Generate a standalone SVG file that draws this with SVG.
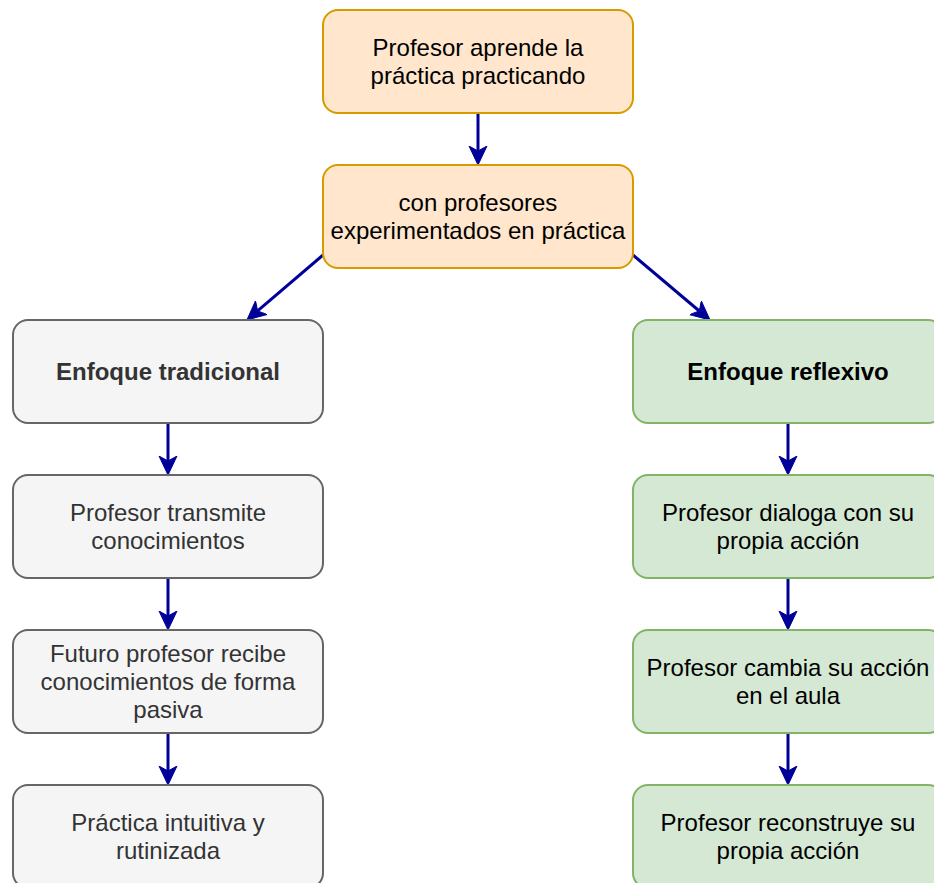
<svg xmlns="http://www.w3.org/2000/svg" width="934" height="883" viewBox="0 0 934 883">
<style>
  rect { stroke-width: 2; }
  .o { fill: #ffe6cc; stroke: #d79b00; }
  .g { fill: #f5f5f5; stroke: #666666; }
  .v { fill: #d5e8d4; stroke: #82b366; }
  text { font-family: "Liberation Sans", Arial, Helvetica, sans-serif; font-size: 24px; text-anchor: middle; }
  .gt { fill: #333333; }
  .bt { fill: #000000; }
  .b { font-weight: bold; }
  .c { stroke: #000099; stroke-width: 3; fill: none; marker-end: url(#arr); }
</style>
<defs>
  <marker id="arr" markerUnits="userSpaceOnUse" markerWidth="20" markerHeight="20" viewBox="0 0 20 20" refX="5" refY="10" orient="auto">
    <path d="M0,1 L19,10 L0,19 L5,10 Z" fill="#000099" stroke="#000099" stroke-width="1"/>
  </marker>
</defs>
<rect width="934" height="883" fill="#ffffff" stroke="none"/>
<g id="connectors">
  <line class="c" x1="478" y1="113" x2="478" y2="151"/>
  <line class="c" x1="323" y1="255" x2="257.6" y2="310.9"/>
  <line class="c" x1="633" y1="255" x2="699.3" y2="311"/>
  <line class="c" x1="168" y1="423" x2="168" y2="461"/>
  <line class="c" x1="168" y1="578" x2="168" y2="616"/>
  <line class="c" x1="168" y1="733" x2="168" y2="771"/>
  <line class="c" x1="788" y1="423" x2="788" y2="461"/>
  <line class="c" x1="788" y1="578" x2="788" y2="616"/>
  <line class="c" x1="788" y1="733" x2="788" y2="771"/>
</g>
<g id="n1">
  <rect class="o" x="323" y="10" width="310" height="103" rx="15"/>
  <text class="bt" x="478" y="56">Profesor aprende la</text>
  <text class="bt" x="478" y="84">práctica practicando</text>
</g>
<g id="n2">
  <rect class="o" x="323" y="165" width="310" height="103" rx="15"/>
  <text class="bt" x="478" y="211">con profesores</text>
  <text class="bt" x="478" y="239">experimentados en práctica</text>
</g>
<g id="t1">
  <rect class="g" x="13" y="320" width="310" height="103" rx="15"/>
  <text class="gt b" x="168" y="380">Enfoque tradicional</text>
</g>
<g id="t2">
  <rect class="g" x="13" y="475" width="310" height="103" rx="15"/>
  <text class="gt" x="168" y="521">Profesor transmite</text>
  <text class="gt" x="168" y="549">conocimientos</text>
</g>
<g id="t3">
  <rect class="g" x="13" y="630" width="310" height="103" rx="15"/>
  <text class="gt" x="168" y="662">Futuro profesor recibe</text>
  <text class="gt" x="168" y="690">conocimientos de forma</text>
  <text class="gt" x="168" y="718">pasiva</text>
</g>
<g id="t4">
  <rect class="g" x="13" y="785" width="310" height="103" rx="15"/>
  <text class="gt" x="168" y="831">Práctica intuitiva y</text>
  <text class="gt" x="168" y="859">rutinizada</text>
</g>
<g id="r1">
  <rect class="v" x="633" y="320" width="310" height="103" rx="15"/>
  <text class="bt b" x="788" y="380">Enfoque reflexivo</text>
</g>
<g id="r2">
  <rect class="v" x="633" y="475" width="310" height="103" rx="15"/>
  <text class="bt" x="788" y="521">Profesor dialoga con su</text>
  <text class="bt" x="788" y="549">propia acción</text>
</g>
<g id="r3">
  <rect class="v" x="633" y="630" width="310" height="103" rx="15"/>
  <text class="bt" x="788" y="676">Profesor cambia su acción</text>
  <text class="bt" x="788" y="704">en el aula</text>
</g>
<g id="r4">
  <rect class="v" x="633" y="785" width="310" height="103" rx="15"/>
  <text class="bt" x="788" y="831">Profesor reconstruye su</text>
  <text class="bt" x="788" y="859">propia acción</text>
</g>
</svg>
